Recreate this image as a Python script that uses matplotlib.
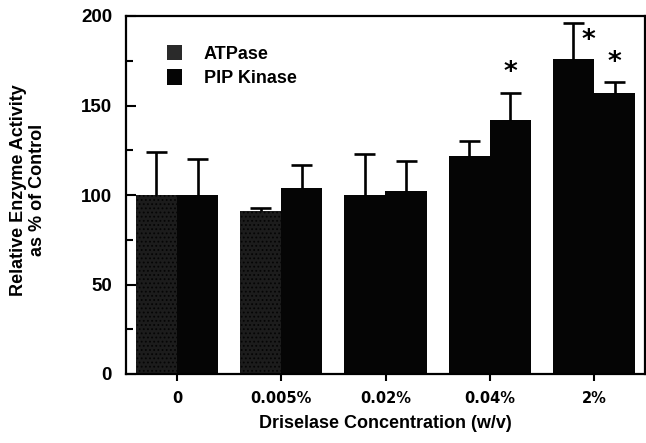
import numpy as np
import matplotlib
matplotlib.use('Agg')
from matplotlib import pyplot as plt
from matplotlib import ticker
from matplotlib.patches import Patch

# data
conc     = ['0', '0.005%', '0.02%', '0.04%', '2%']
atpase   = [100, 91, 100, 122, 176]
atp_err  = [24, 2, 23, 8, 20]
pip      = [100, 104, 102, 142, 157]
pip_err  = [20, 13, 17, 15, 6]
star_atp = [False, False, False, False, True]
star_pip = [False, False, False, True, True]

plt.rcParams['hatch.color'] = '#404040'
plt.rcParams['hatch.linewidth'] = 0.8

fig = plt.figure(figsize=(6.46, 4.43), dpi=100)
ax = fig.add_axes([126/646, 69/443, 519/646, 358/443])

x = np.arange(len(conc))
w = 0.395

atp_face  = ['#1c1c1c', '#1c1c1c', '#050505', '#050505', '#050505']
atp_hatch = ['....', '....', None, None, None]

for i in range(len(conc)):
	ax.bar(x[i] - w/2, atpase[i], w, color=atp_face[i], hatch=atp_hatch[i],
	       edgecolor='#050505', linewidth=0, zorder=2)
ax.bar(x + w/2, pip, w, color='#050505', linewidth=0, zorder=2)

# upper error bars only
def upper_err(xs, ys, es):
	tops = np.array(ys) + np.array(es)
	ax.vlines(xs, ys, tops, color='black', linewidth=1.9, zorder=3)
	ax.hlines(tops, xs - 0.1, xs + 0.1, color='black', linewidth=1.9, zorder=3)

upper_err(x - w/2, atpase, atp_err)
upper_err(x + w/2, pip, pip_err)

# significance marks
for i in range(len(conc)):
	if star_atp[i]:
		ax.text(x[i] - w/2 + 0.14, atpase[i] + atp_err[i] - 10, '*', ha='center', va='center',
		        fontsize=19, fontweight='bold', family='DejaVu Sans')
	if star_pip[i]:
		ax.text(x[i] + w/2, pip[i] + pip_err[i] + 11, '*', ha='center', va='center',
		        fontsize=19, fontweight='bold', family='DejaVu Sans')

ax.set_xlim(-0.49, 4.49)
ax.set_ylim(0, 200)
ax.set_xticks(x)
ax.set_xticklabels(conc, family='DejaVu Sans', fontweight='bold', fontsize=10.5)
ax.yaxis.set_major_locator(ticker.MultipleLocator(50))
ax.yaxis.set_minor_locator(ticker.MultipleLocator(25))
for lab in ax.get_yticklabels():
	lab.set_family('Liberation Sans')
	lab.set_fontweight('bold')
	lab.set_fontsize(13.5)

ax.tick_params(axis='y', which='major', direction='in', length=7, width=1.5, pad=10)
ax.tick_params(axis='y', which='minor', direction='in', length=5, width=1.5)
ax.tick_params(axis='x', which='major', direction='out', length=5, width=1.5, pad=7)
for s in ax.spines.values():
	s.set_linewidth(1.6)

ax.set_xlabel('Driselase Concentration (w/v)', family='Liberation Sans', fontweight='bold',
              fontsize=13, labelpad=7)
fig.text(28/646, 1 - 190/443, 'Relative Enzyme Activity\nas % of Control', rotation=90,
         ha='center', va='center', multialignment='center', family='Liberation Sans',
         fontweight='bold', fontsize=13)

handles = [Patch(facecolor='#2a2a2a', hatch='....', edgecolor='#2a2a2a', linewidth=0),
           Patch(facecolor='#050505', linewidth=0)]
ax.legend(handles, ['ATPase', 'PIP Kinase'], loc='upper left', bbox_to_anchor=(0.079, 0.92),
          frameon=False, borderpad=0, borderaxespad=0, handlelength=0.85, handleheight=0.95,
          handletextpad=1.2, labelspacing=0.35,
          prop=dict(family='Liberation Sans', weight='bold', size=13))

fig.savefig('out.png', dpi=100)
